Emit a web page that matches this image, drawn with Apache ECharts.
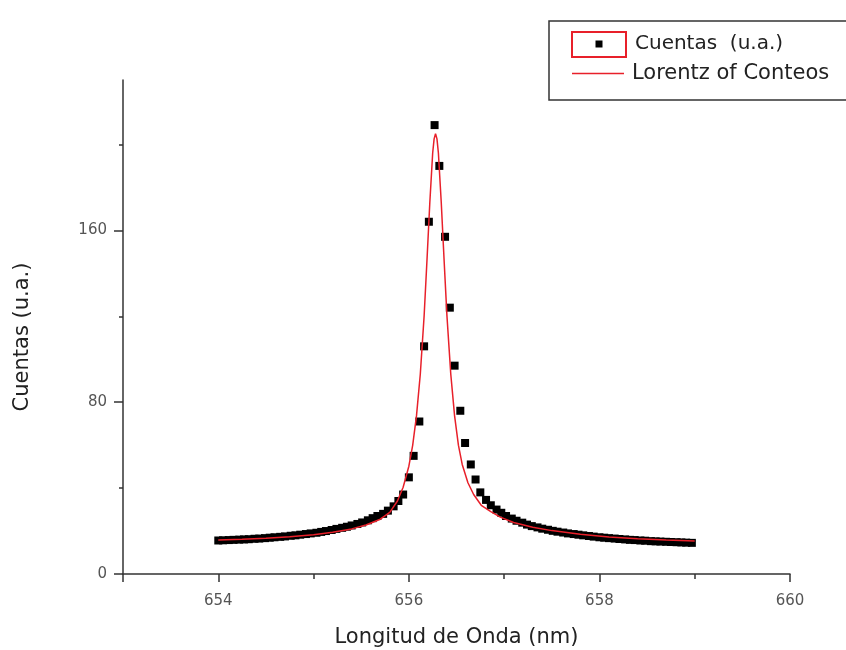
<!DOCTYPE html>
<html>
<head>
<meta charset="utf-8">
<script src="https://cdn.jsdelivr.net/npm/echarts@6/dist/echarts.min.js"></script>
<style>html,body{margin:0;padding:0;background:#fff}#c{width:846px;height:650px}</style>
</head>
<body>
<div id="c"></div>
<script>
var wavelength = [654.00,654.05,654.11,654.16,654.22,654.27,654.32,654.38,654.43,654.49,654.54,654.59,654.65,654.70,654.76,654.81,654.86,654.92,654.97,655.03,655.08,655.13,655.19,655.24,655.30,655.35,655.40,655.46,655.51,655.57,655.62,655.67,655.73,655.78,655.84,655.89,655.94,656.00,656.05,656.11,656.16,656.21,656.27,656.32,656.38,656.43,656.48,656.54,656.59,656.65,656.70,656.75,656.81,656.86,656.92,656.97,657.02,657.08,657.13,657.19,657.24,657.29,657.35,657.40,657.46,657.51,657.56,657.62,657.67,657.73,657.78,657.83,657.89,657.94,658.00,658.05,658.10,658.16,658.21,658.27,658.32,658.37,658.43,658.48,658.54,658.59,658.64,658.70,658.75,658.81,658.86,658.91,658.97];
var counts = [15.6,15.7,15.8,15.9,16.0,16.1,16.2,16.4,16.5,16.7,16.9,17.1,17.3,17.5,17.8,18.0,18.3,18.6,18.9,19.2,19.6,20.0,20.5,21.0,21.5,22.0,22.6,23.3,24.0,25.0,26.0,27.0,28.0,29.5,31.5,34,37,45,55,71,106,164,209,190,157,124,97,76,61,51,44,38,34.5,32,30,28.5,27,25.8,24.8,23.9,23.0,22.3,21.7,21.1,20.6,20.1,19.7,19.3,18.9,18.6,18.3,18.0,17.7,17.4,17.1,16.9,16.7,16.5,16.3,16.1,15.9,15.8,15.6,15.5,15.3,15.2,15.1,15.0,14.9,14.8,14.7,14.6,14.5];
var fitWavelength = [654.00,654.25,654.50,654.75,655.00,655.20,655.40,655.55,655.70,655.80,655.88,655.94,656.00,656.04,656.08,656.12,656.16,656.19,656.22,656.25,656.265,656.28,656.295,656.31,656.34,656.37,656.40,656.44,656.48,656.52,656.56,656.62,656.68,656.76,656.86,656.96,657.10,657.30,657.50,657.80,658.10,658.40,658.70,659.00];
var fitCounts = [15.8,16.2,16.7,17.4,18.3,19.4,21.0,22.8,25.5,28.7,34,40.4,50.2,59.9,73.6,93,120,146,173,196,202.6,205,202.6,196,173,146,120,93,73.6,60,51,42.5,37,32,29,26.5,24,21.8,20.2,18.5,17.2,16.4,15.8,15.4];
var xMajorTicks = [653,654,656,658,660];
var xTickLabels = [654,656,658,660];
var xMinorTicks = [655,657,659];
var yTickLabels = [0,80,160];
var yMinorTicks = [40,120,200];
var seriesNames = ['Cuentas  (u.a.)','Lorentz of Conteos'];

var FONT = 'DejaVu Sans';
var scatterData = wavelength.map(function(w,i){return [w,counts[i]];});
var lineData = fitWavelength.map(function(w,i){return [w,fitCounts[i]];});

var chart = echarts.init(document.getElementById('c'), null, {renderer:'canvas'});
var axisLineStyle = {color:'#333', width:1.5};
chart.setOption({
  animation:false,
  backgroundColor:'#fff',
  grid:{left:123,right:56,top:80,bottom:76,containLabel:false,outerBoundsMode:'none'},
  xAxis:[{
    type:'value', min:653, max:660,
    name:'Longitud de Onda (nm)', nameLocation:'middle', nameGap:53,
    nameTextStyle:{fontFamily:FONT,fontSize:21,color:'#222'},
    axisLine:{show:true,onZero:false,lineStyle:axisLineStyle},
    axisTick:{show:true,length:8,customValues:xMajorTicks,lineStyle:{color:'#333',width:1.5}},
    axisLabel:{customValues:xTickLabels,fontFamily:FONT,fontSize:15,color:'#555',margin:20},
    splitLine:{show:false}
  },{
    type:'value', min:653, max:660, position:'bottom',
    axisLine:{show:false},
    axisTick:{show:true,length:5,customValues:xMinorTicks,lineStyle:{color:'#333',width:1.5}},
    axisLabel:{show:false},
    splitLine:{show:false}
  }],
  yAxis:[{
    type:'value', min:0, max:230,
    name:'Cuentas (u.a.)', nameLocation:'middle', nameGap:90,
    nameTextStyle:{fontFamily:FONT,fontSize:21,color:'#222',padding:[0,20,0,0]},
    axisLine:{show:true,onZero:false,lineStyle:axisLineStyle},
    axisTick:{show:true,length:9,customValues:yTickLabels,lineStyle:{color:'#333',width:1.5}},
    axisLabel:{customValues:yTickLabels,fontFamily:FONT,fontSize:15,color:'#555',margin:16},
    splitLine:{show:false}
  },{
    type:'value', min:0, max:230, position:'left',
    axisLine:{show:false},
    axisTick:{show:true,length:4,customValues:yMinorTicks,lineStyle:{color:'#333',width:1.5}},
    axisLabel:{show:false},
    splitLine:{show:false}
  }],
  series:[{
    name:seriesNames[0], type:'scatter', xAxisIndex:0, yAxisIndex:0,
    symbol:'rect', symbolSize:8, itemStyle:{color:'#000',opacity:1},
    data:scatterData, z:2
  },{
    name:seriesNames[1], type:'line', xAxisIndex:0, yAxisIndex:0,
    showSymbol:false, symbol:'none', smooth:false,
    lineStyle:{color:'#e8202a',width:1.5},
    data:lineData, z:3
  }],
  graphic:[
    {type:'rect', shape:{x:549,y:21,width:320,height:79}, style:{fill:'#fff',stroke:'#333',lineWidth:1.5}, z:10},
    {type:'rect', shape:{x:572,y:32,width:54,height:25}, style:{fill:'#fff',stroke:'#e8202a',lineWidth:2}, z:11},
    {type:'rect', shape:{x:595.5,y:40.5,width:7,height:7}, style:{fill:'#000'}, z:12},
    {type:'text', x:635, y:44, style:{text:seriesNames[0], font:'20px "DejaVu Sans"', fill:'#222', verticalAlign:'middle', textAlign:'left'}, z:12},
    {type:'line', shape:{x1:572,y1:73.5,x2:624,y2:73.5}, style:{stroke:'#e8202a',lineWidth:1.5}, z:11},
    {type:'text', x:632, y:74, style:{text:seriesNames[1], font:'21px "DejaVu Sans"', fill:'#222', verticalAlign:'middle', textAlign:'left'}, z:12}
  ]
});
</script>
</body>
</html>
